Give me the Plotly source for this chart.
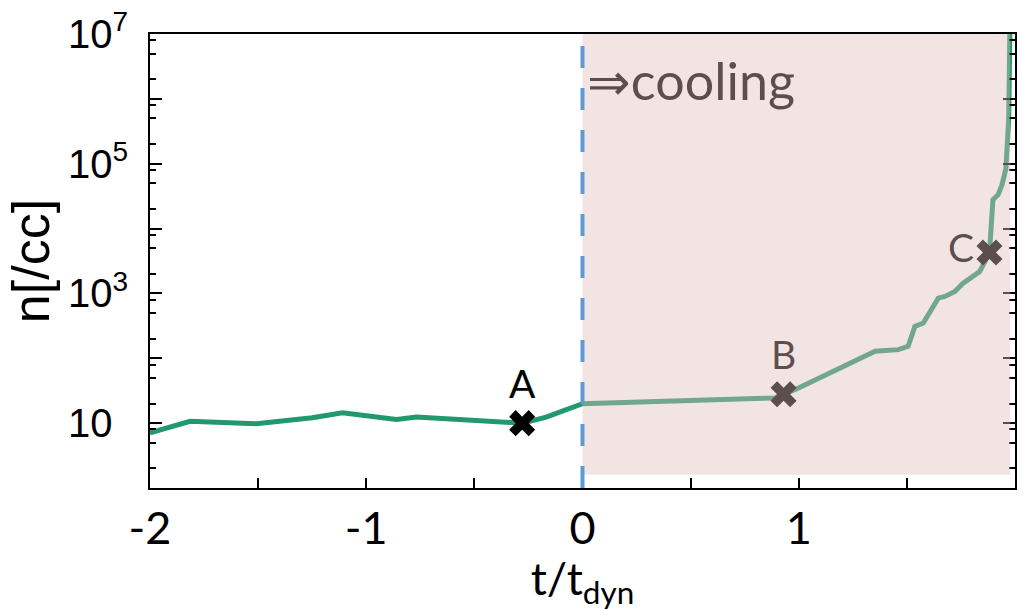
import plotly.graph_objects as go

# Density history of the collapsing clump
t_vals = [-2.0, -1.815, -1.508, -1.249, -1.110, -0.860, -0.768, -0.279, -0.168,
          0.0, 0.891, 0.999, 1.353, 1.460, 1.506, 1.537, 1.576, 1.645, 1.676,
          1.722, 1.760, 1.837, 1.882, 1.898, 1.922, 1.940, 1.958, 1.971, 1.976]
n_vals = [7.1, 10.7, 9.8, 12.1, 14.4, 11.4, 12.4, 10.0, 12.4,
          19.9, 24.5, 34.9, 128, 136, 153, 311, 349, 847, 899,
          1074, 1440, 2180, 4270, 27900, 33300, 47500, 84700, 498000, 1.0e7]

# Marked stages
stage_names = ["A", "B", "C"]
stage_t = [-0.279, 0.930, 1.882]
stage_n = [10.0, 27.9, 4270]
stage_textpos = ["top center", "top center", "middle left"]

# Cooling phase
cool_start = 0.0
cool_end = 1.978
cool_label = "⇒cooling"
cool_label_t = 0.02
cool_label_n = 1.5e6

x_ticks = [-2, -1, 0, 1, 2]
x_minor = [-1.5, -0.5, 0.5, 1.5]
y_ticks = [1, 10, 1e2, 1e3, 1e4, 1e5, 1e6, 1e7]
pad = '<sup><span style="color:rgba(0,0,0,0)">0</span></sup>'
y_ticktext = ["", "10" + pad, "", "10<sup>3</sup>", "", "10<sup>5</sup>", "", "10<sup>7</sup>"]
y_minor = [m * 10 ** k for k in range(0, 7) for m in (2, 5, 8)]

fig = go.Figure()

fig.add_trace(go.Scatter(
    x=t_vals, y=n_vals, mode="lines",
    line=dict(color="rgb(34,153,108)", width=5),
    hoverinfo="skip", showlegend=False,
))

fig.add_trace(go.Scatter(
    x=stage_t, y=stage_n, mode="markers+text",
    marker=dict(symbol="x", size=23, color="black", line=dict(width=0)),
    text=stage_names, textposition=stage_textpos,
    textfont=dict(family="Lato", size=39, color="black"),
    showlegend=False,
))

fig.add_trace(go.Scatter(
    x=[cool_label_t], y=[cool_label_n], mode="text",
    text=[cool_label], textposition="middle right",
    textfont=dict(family="Lato", size=52, color="black"),
    showlegend=False,
))

# translucent band over the cooling phase
fig.add_shape(type="rect", xref="x", yref="paper",
              x0=cool_start, x1=cool_end, y0=0.029, y1=1,
              fillcolor="rgba(226,189,189,0.41)", line=dict(width=0),
              layer="above")
fig.add_shape(type="line", xref="x", yref="paper",
              x0=cool_start, x1=cool_start, y0=0, y1=1,
              line=dict(color="rgb(91,155,213)", width=4, dash="22px,20px"),
              layer="above")

fig.update_layout(
    width=1023, height=611,
    margin=dict(l=150, r=6, t=33, b=123),
    plot_bgcolor="white", paper_bgcolor="white",
    showlegend=False,
)

fig.update_xaxes(
    range=[-2, 2], tickvals=x_ticks, ticktext=[str(v) for v in x_ticks],
    ticks="inside", ticklen=10, tickwidth=2, tickcolor="black",
    minor=dict(tickvals=x_minor, ticks="inside", ticklen=10, tickwidth=2, tickcolor="black"),
    showline=True, linewidth=2, linecolor="black", mirror=True,
    showgrid=False, zeroline=False,
    tickfont=dict(family="Lato", size=45, color="black"),
    title=dict(text="t/t<sub>dyn</sub>", font=dict(family="Lato", size=45, color="black"), standoff=2),
)

fig.update_yaxes(
    type="log", range=[0, 7], tickvals=y_ticks, ticktext=y_ticktext,
    ticks="inside", ticklen=12, tickwidth=2, tickcolor="black",
    minor=dict(tickvals=y_minor, ticks="inside", ticklen=6, tickwidth=2, tickcolor="black"),
    showline=True, linewidth=2, linecolor="black", mirror="ticks",
    showgrid=False, zeroline=False,
    tickfont=dict(family="Liberation Sans", size=40, color="black"),
    ticklabelstandoff=12,
    title=dict(text="n[/cc]", font=dict(family="Liberation Sans", size=52, color="black"), standoff=2),
)

fig.write_html("out.html")
